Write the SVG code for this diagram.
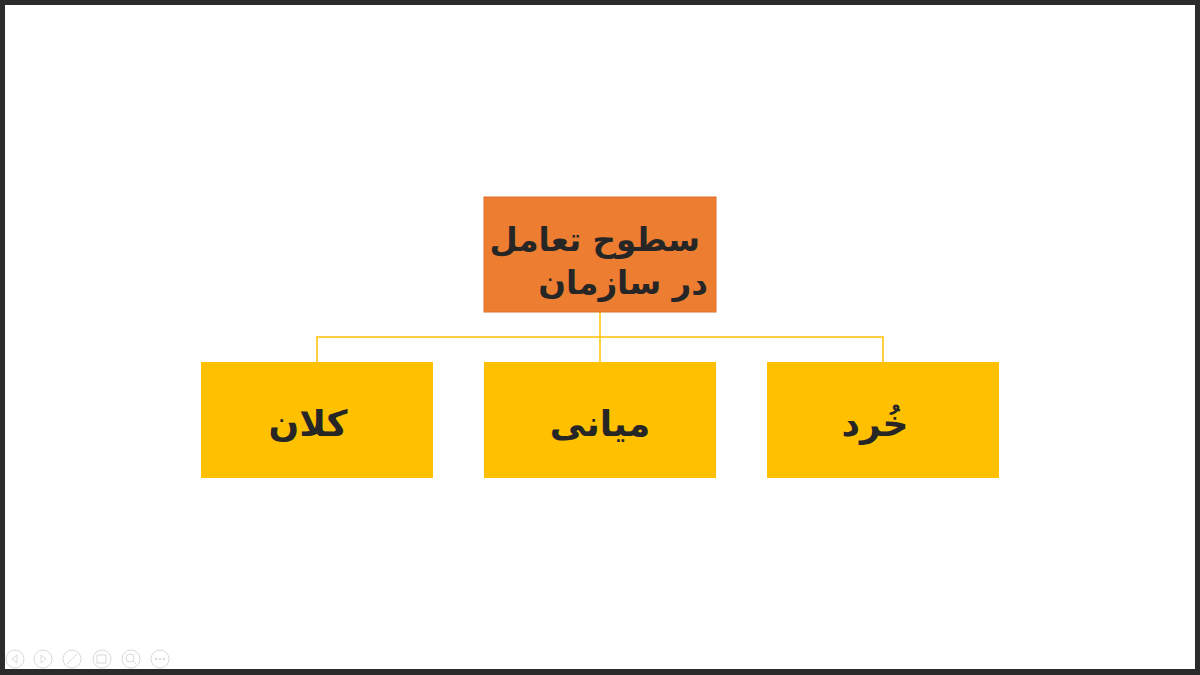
<svg xmlns="http://www.w3.org/2000/svg" width="1200" height="675" viewBox="0 0 1200 675">
<style>
.t{font-family:"DejaVu Sans","Noto Sans",sans-serif;font-weight:bold;fill:#262626;direction:rtl}
.child{fill:#FFC000}
.conn{stroke:#FFC000;stroke-width:1.5;fill:none}
.ic{fill:none;stroke:#d9d9d9;stroke-width:1}
</style>
<rect x="0" y="0" width="1200" height="675" fill="#2b2b2b"/>
<rect x="5" y="5" width="1190" height="664" fill="#ffffff"/>
<g id="connectors">
<path class="conn" d="M600 312V362M317 362V337H883V362"/>
</g>
<g id="root">
<rect x="484" y="197" width="232" height="115" fill="#ED7D31" stroke="#e2712a" stroke-width="1"/>
<text class="t" x="700" y="251" font-size="32.5" text-anchor="start">سطوح تعامل</text>
<text class="t" x="708" y="294" font-size="32.5" text-anchor="start">در سازمان</text>
</g>
<g id="kalan">
<rect class="child" x="201" y="362" width="232" height="116"/>
<text class="t" x="308" y="436" font-size="36" text-anchor="middle">کلان</text>
</g>
<g id="miani">
<rect class="child" x="484" y="362" width="232" height="116"/>
<text class="t" x="600" y="436" font-size="36" text-anchor="middle">میانی</text>
</g>
<g id="khord">
<rect class="child" x="767" y="362" width="232" height="116"/>
<text class="t" x="875" y="436" font-size="36" text-anchor="middle">خُرد</text>
</g>
<g id="controls">
<circle class="ic" cx="15" cy="659" r="9"/><path class="ic" d="M17 655L12 659L17 663Z"/>
<circle class="ic" cx="43" cy="659" r="9"/><path class="ic" d="M41 655L46 659L41 663Z"/>
<circle class="ic" cx="72" cy="659" r="9"/><path class="ic" d="M67 664L77 654"/>
<circle class="ic" cx="102" cy="659" r="9"/><rect class="ic" x="97" y="655" width="9" height="8"/>
<circle class="ic" cx="131" cy="659" r="9"/><circle class="ic" cx="130" cy="658" r="4"/><path class="ic" d="M133 661L136 664"/>
<circle class="ic" cx="160" cy="659" r="9"/><path d="M155 659h2M159 659h2M163 659h2" stroke="#d9d9d9" stroke-width="2"/>
</g>
</svg>
